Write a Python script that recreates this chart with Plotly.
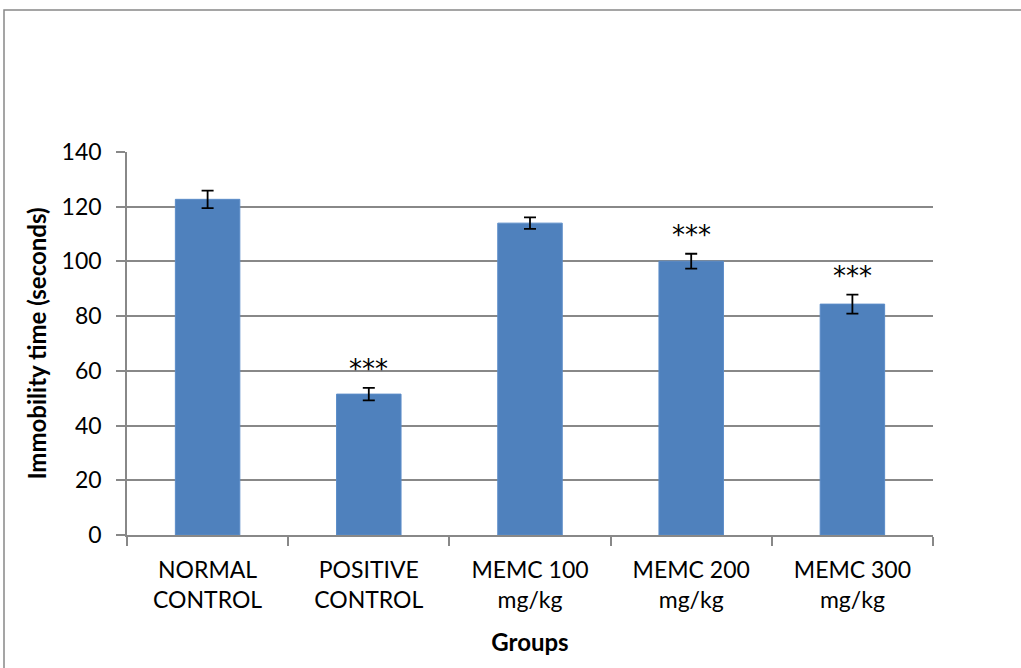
import plotly.graph_objects as go

# Immobility time per treatment group (mean ± SEM)
groups = ["NORMAL<br>CONTROL", "POSITIVE<br>CONTROL", "MEMC 100<br>mg/kg", "MEMC 200<br>mg/kg", "MEMC 300<br>mg/kg"]
immobility = [122.7, 51.5, 114.0, 100.1, 84.4]
sem = [3.2, 2.3, 2.1, 2.7, 3.5]
significance = ["", "***", "", "***", "***"]
y_ticks = [0, 20, 40, 60, 80, 100, 120, 140]

W, H = 1021, 668
L, R, T, B = 127, 88, 152, 133
pw, ph = W - L - R, H - T - B

FONT = "Lato, Carlito, Calibri, sans-serif"
GRID = "#888888"

fig = go.Figure(
    go.Bar(
        x=groups,
        y=immobility,
        marker=dict(color="#4F81BD", line=dict(color="#5B8CC8", width=1)),
        error_y=dict(type="data", array=sem, visible=True, color="black", thickness=1.8, width=6),
        width=0.4,
    )
)

for g, v, e, s in zip(groups, immobility, sem, significance):
    if s:
        fig.add_annotation(
            x=g, y=v + e, text=s, showarrow=False, yanchor="bottom", yshift=2,
            font=dict(family="DejaVu Sans", size=26, color="black"),
        )

# outer chart frame (left and top edges)
def px_x(p):
    return (p - L) / pw

def px_y(p):
    return (H - B - p) / ph

fig.add_shape(
    type="path",
    xref="paper", yref="paper",
    path=f"M {px_x(4)},{px_y(H + 5)} L {px_x(4)},{px_y(10)} L {px_x(W + 5)},{px_y(10)}",
    line=dict(color=GRID, width=1.5),
)

fig.update_layout(
    width=W, height=H,
    margin=dict(l=L, r=R, t=T, b=B),
    plot_bgcolor="white", paper_bgcolor="white",
    showlegend=False,
    font=dict(family=FONT, size=23, color="black"),
    bargap=0.6,
)

fig.update_xaxes(
    showline=True, linecolor=GRID, linewidth=1.5,
    ticks="outside", tickson="boundaries", ticklen=9, tickcolor=GRID, tickwidth=1.5,
    tickfont=dict(family=FONT, size=23), ticklabelstandoff=14,
    title=dict(text="<b>Groups</b>", font=dict(family=FONT, size=24), standoff=22),
)
fig.update_yaxes(
    range=[0, 140], tickvals=y_ticks,
    showline=True, linecolor=GRID, linewidth=1.5,
    showgrid=True, gridcolor=GRID, gridwidth=1.5,
    ticks="outside", ticklen=9, tickcolor=GRID, tickwidth=1.5,
    tickfont=dict(family=FONT, size=23), ticklabelstandoff=10,
    title=dict(text="<b>Immobility time (seconds)</b>", font=dict(family=FONT, size=24), standoff=8),
    zeroline=False,
)

fig.write_html("out.html")
